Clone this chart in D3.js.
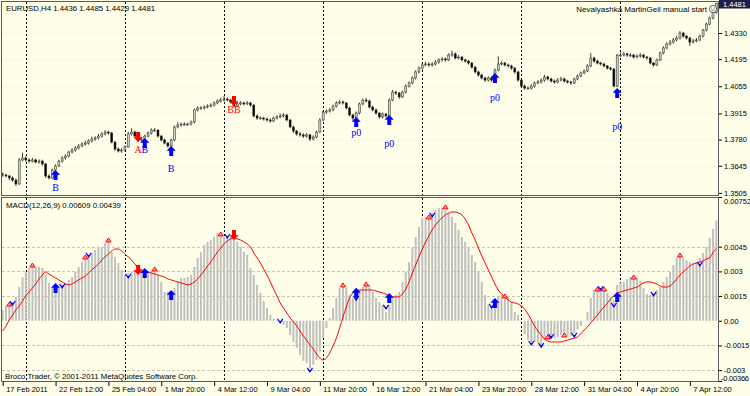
<!DOCTYPE html>
<html>
<head>
<meta charset="utf-8">
<script src="https://cdn.jsdelivr.net/npm/d3@7"></script>
<style>
  html, body { margin: 0; padding: 0; background: #fefee9; }
  svg { display: block; }
  text { font-family: "Liberation Sans", Arial, sans-serif; }
</style>
</head>
<body>
<div class="viz"></div>
<script>
// ---- data: EURUSD H4, 217 bars ----
const opens = [
1.3601,1.3597,1.3592,1.3582,1.3571,1.3551,1.3675,1.3685,1.3675,1.3669,
1.3675,1.3664,1.3669,1.3654,1.3592,1.3582,1.3623,1.3644,1.3669,1.3685,
1.3695,1.3716,1.3726,1.3737,1.3747,1.3757,1.3762,1.3773,1.3783,1.3788,
1.3798,1.3809,1.3819,1.3814,1.3767,1.3731,1.3721,1.3726,1.3742,1.3809,
1.3819,1.3798,1.3778,1.3783,1.3798,1.3814,1.3829,1.3829,1.3798,1.3778,
1.3762,1.3747,1.3778,1.3845,1.3855,1.3860,1.3860,1.3860,1.3871,1.3933,
1.3943,1.3943,1.3948,1.3953,1.3958,1.3969,1.3979,1.3984,1.3989,1.3984,
1.3974,1.3953,1.3964,1.3969,1.3964,1.3969,1.3958,1.3902,1.3891,1.3891,
1.3886,1.3881,1.3876,1.3891,1.3897,1.3902,1.3907,1.3881,1.3845,1.3824,
1.3809,1.3804,1.3798,1.3804,1.3783,1.3793,1.3819,1.3881,1.3922,1.3927,
1.3933,1.3953,1.3969,1.3974,1.3969,1.3943,1.3907,1.3891,1.3917,1.3964,
1.3984,1.3979,1.3948,1.3933,1.3917,1.3897,1.3912,1.3902,1.3984,1.4025,
1.4020,1.4000,1.4025,1.4056,1.4072,1.4098,1.4129,1.4149,1.4165,1.4170,
1.4165,1.4170,1.4180,1.4191,1.4196,1.4191,1.4216,1.4222,1.4201,1.4206,
1.4191,1.4185,1.4175,1.4154,1.4129,1.4113,1.4098,1.4087,1.4098,1.4087,
1.4139,1.4170,1.4175,1.4165,1.4160,1.4149,1.4129,1.4087,1.4056,1.4046,
1.4046,1.4056,1.4072,1.4077,1.4087,1.4103,1.4093,1.4082,1.4077,1.4087,
1.4093,1.4082,1.4077,1.4072,1.4093,1.4108,1.4124,1.4134,1.4160,1.4201,
1.4185,1.4175,1.4170,1.4160,1.4149,1.4144,1.4056,1.4216,1.4216,1.4222,
1.4216,1.4216,1.4206,1.4211,1.4216,1.4206,1.4201,1.4175,1.4165,1.4191,
1.4227,1.4253,1.4273,1.4283,1.4294,1.4304,1.4330,1.4314,1.4304,1.4283,
1.4289,1.4294,1.4314,1.4345,1.4376,1.4407,1.4436];
const highs = [
1.3610,1.3604,1.3598,1.3590,1.3579,1.3684,1.3712,1.3694,1.3683,1.3686,
1.3681,1.3678,1.3676,1.3660,1.3601,1.3630,1.3652,1.3676,1.3694,1.3704,
1.3722,1.3735,1.3746,1.3757,1.3766,1.3775,1.3782,1.3795,1.3797,1.3810,
1.3818,1.3829,1.3826,1.3820,1.3772,1.3740,1.3735,1.3750,1.3820,1.3838,
1.3826,1.3804,1.3792,1.3806,1.3822,1.3838,1.3840,1.3834,1.3804,1.3785,
1.3768,1.3785,1.3852,1.3870,1.3868,1.3869,1.3867,1.3878,1.3940,1.3952,
1.3953,1.3957,1.3962,1.3967,1.3977,1.3988,1.3996,1.4005,1.3998,1.3991,
1.3992,1.3972,1.3978,1.3976,1.3979,1.3975,1.3963,1.3910,1.3900,1.3898,
1.3894,1.3890,1.3899,1.3906,1.3915,1.3916,1.3912,1.3886,1.3852,1.3830,
1.3820,1.3812,1.3814,1.3810,1.3802,1.3826,1.3890,1.3930,1.3936,1.3943,
1.3961,1.3978,1.3984,1.3982,1.3974,1.3950,1.3913,1.3925,1.3971,1.3992,
1.3995,1.3986,1.3955,1.3940,1.3922,1.3920,1.3918,1.3992,1.4036,1.4032,
1.4026,1.4033,1.4064,1.4080,1.4106,1.4137,1.4158,1.4175,1.4182,1.4179,
1.4180,1.4190,1.4200,1.4206,1.4204,1.4226,1.4240,1.4230,1.4216,1.4212,
1.4198,1.4192,1.4180,1.4160,1.4135,1.4120,1.4104,1.4106,1.4103,1.4147,
1.4210,1.4184,1.4181,1.4172,1.4166,1.4155,1.4134,1.4093,1.4064,1.4055,
1.4066,1.4080,1.4087,1.4096,1.4113,1.4110,1.4099,1.4090,1.4098,1.4104,
1.4100,1.4089,1.4084,1.4100,1.4116,1.4131,1.4142,1.4168,1.4227,1.4208,
1.4192,1.4182,1.4176,1.4165,1.4156,1.4150,1.4222,1.4230,1.4232,1.4228,
1.4226,1.4222,1.4220,1.4226,1.4223,1.4212,1.4206,1.4181,1.4198,1.4234,
1.4261,1.4282,1.4294,1.4304,1.4316,1.4340,1.4336,1.4320,1.4310,1.4299,
1.4304,1.4322,1.4352,1.4384,1.4415,1.4444,1.4485];
const lows = [
1.3588,1.3585,1.3570,1.3562,1.3540,1.3546,1.3668,1.3666,1.3660,1.3662,
1.3657,1.3655,1.3646,1.3583,1.3575,1.3577,1.3615,1.3638,1.3661,1.3676,
1.3688,1.3709,1.3718,1.3729,1.3740,1.3749,1.3754,1.3766,1.3774,1.3781,
1.3790,1.3801,1.3805,1.3760,1.3722,1.3713,1.3712,1.3718,1.3738,1.3801,
1.3790,1.3768,1.3770,1.3776,1.3791,1.3806,1.3820,1.3790,1.3770,1.3755,
1.3738,1.3741,1.3772,1.3838,1.3847,1.3852,1.3851,1.3853,1.3864,1.3925,
1.3934,1.3936,1.3941,1.3946,1.3951,1.3962,1.3972,1.3977,1.3976,1.3966,
1.3945,1.3946,1.3957,1.3956,1.3958,1.3950,1.3895,1.3882,1.3883,1.3878,
1.3872,1.3867,1.3870,1.3884,1.3890,1.3895,1.3874,1.3838,1.3815,1.3800,
1.3795,1.3788,1.3790,1.3772,1.3776,1.3787,1.3814,1.3875,1.3914,1.3920,
1.3926,1.3946,1.3962,1.3961,1.3936,1.3900,1.3879,1.3885,1.3910,1.3957,
1.3971,1.3940,1.3925,1.3908,1.3888,1.3889,1.3892,1.3897,1.3978,1.4010,
1.3990,1.3994,1.4018,1.4048,1.4065,1.4090,1.4121,1.4141,1.4158,1.4156,
1.4157,1.4163,1.4172,1.4183,1.4182,1.4185,1.4208,1.4194,1.4194,1.4183,
1.4177,1.4167,1.4146,1.4121,1.4105,1.4090,1.4078,1.4080,1.4077,1.4082,
1.4132,1.4162,1.4157,1.4152,1.4141,1.4120,1.4079,1.4048,1.4036,1.4037,
1.4038,1.4048,1.4066,1.4070,1.4079,1.4085,1.4074,1.4068,1.4070,1.4080,
1.4074,1.4069,1.4062,1.4066,1.4086,1.4101,1.4117,1.4128,1.4154,1.4177,
1.4168,1.4162,1.4152,1.4141,1.4136,1.4050,1.4050,1.4207,1.4210,1.4207,
1.4206,1.4198,1.4199,1.4203,1.4198,1.4192,1.4168,1.4156,1.4160,1.4185,
1.4220,1.4246,1.4266,1.4276,1.4287,1.4297,1.4306,1.4296,1.4262,1.4276,
1.4282,1.4288,1.4308,1.4338,1.4370,1.4400,1.4429];
const closes = [
1.3597,1.3592,1.3582,1.3571,1.3551,1.3675,1.3685,1.3675,1.3669,1.3675,
1.3664,1.3669,1.3654,1.3592,1.3582,1.3623,1.3644,1.3669,1.3685,1.3695,
1.3716,1.3726,1.3737,1.3747,1.3757,1.3762,1.3773,1.3783,1.3788,1.3798,
1.3809,1.3819,1.3814,1.3767,1.3731,1.3721,1.3726,1.3742,1.3809,1.3819,
1.3798,1.3778,1.3783,1.3798,1.3814,1.3829,1.3829,1.3798,1.3778,1.3762,
1.3747,1.3778,1.3845,1.3855,1.3860,1.3860,1.3860,1.3871,1.3933,1.3943,
1.3943,1.3948,1.3953,1.3958,1.3969,1.3979,1.3984,1.3989,1.3984,1.3974,
1.3953,1.3964,1.3969,1.3964,1.3969,1.3958,1.3902,1.3891,1.3891,1.3886,
1.3881,1.3876,1.3891,1.3897,1.3902,1.3907,1.3881,1.3845,1.3824,1.3809,
1.3804,1.3798,1.3804,1.3783,1.3793,1.3819,1.3881,1.3922,1.3927,1.3933,
1.3953,1.3969,1.3974,1.3969,1.3943,1.3907,1.3891,1.3917,1.3964,1.3984,
1.3979,1.3948,1.3933,1.3917,1.3897,1.3912,1.3902,1.3984,1.4025,1.4020,
1.4000,1.4025,1.4056,1.4072,1.4098,1.4129,1.4149,1.4165,1.4170,1.4165,
1.4170,1.4180,1.4191,1.4196,1.4191,1.4216,1.4222,1.4201,1.4206,1.4191,
1.4185,1.4175,1.4154,1.4129,1.4113,1.4098,1.4087,1.4098,1.4087,1.4139,
1.4170,1.4175,1.4165,1.4160,1.4149,1.4129,1.4087,1.4056,1.4046,1.4046,
1.4056,1.4072,1.4077,1.4087,1.4103,1.4093,1.4082,1.4077,1.4087,1.4093,
1.4082,1.4077,1.4072,1.4093,1.4108,1.4124,1.4134,1.4160,1.4201,1.4185,
1.4175,1.4170,1.4160,1.4149,1.4144,1.4056,1.4216,1.4216,1.4222,1.4216,
1.4216,1.4206,1.4211,1.4216,1.4206,1.4201,1.4175,1.4165,1.4191,1.4227,
1.4253,1.4273,1.4283,1.4294,1.4304,1.4330,1.4314,1.4304,1.4283,1.4289,
1.4294,1.4314,1.4345,1.4376,1.4407,1.4436,1.4481];

// MACD(12,26,9): main histogram and signal line
const macd = [
0.00066,0.00090,0.00102,0.00114,0.00145,0.00205,0.00266,0.00297,0.00321,0.00327,
0.00327,0.00327,0.00321,0.00278,0.00230,0.00199,0.00187,0.00199,0.00218,0.00230,
0.00248,0.00266,0.00297,0.00327,0.00357,0.00382,0.00388,0.00412,0.00430,0.00442,
0.00448,0.00473,0.00479,0.00418,0.00388,0.00351,0.00309,0.00278,0.00290,0.00297,
0.00309,0.00309,0.00297,0.00290,0.00297,0.00309,0.00297,0.00278,0.00236,0.00175,
0.00175,0.00175,0.00199,0.00236,0.00260,0.00260,0.00266,0.00278,0.00327,0.00382,
0.00418,0.00461,0.00479,0.00491,0.00509,0.00533,0.00521,0.00509,0.00503,0.00509,
0.00503,0.00479,0.00448,0.00418,0.00400,0.00321,0.00278,0.00218,0.00169,0.00120,
0.00078,0.00035,0.00011,0.00005,-0.00013,-0.00026,-0.00044,-0.00086,-0.00129,-0.00165,
-0.00208,-0.00244,-0.00256,-0.00287,-0.00269,-0.00238,-0.00190,-0.00105,-0.00044,0.00017,
0.00078,0.00139,0.00199,0.00211,0.00199,0.00157,0.00139,0.00157,0.00187,0.00205,
0.00224,0.00218,0.00175,0.00139,0.00114,0.00096,0.00053,0.00096,0.00139,0.00157,
0.00175,0.00236,0.00297,0.00357,0.00442,0.00509,0.00570,0.00625,0.00631,0.00631,
0.00655,0.00673,0.00685,0.00685,0.00673,0.00655,0.00631,0.00594,0.00552,0.00509,
0.00479,0.00442,0.00400,0.00357,0.00297,0.00236,0.00157,0.00096,0.00084,0.00108,
0.00151,0.00157,0.00157,0.00145,0.00114,0.00053,0.00035,-0.00007,-0.00080,-0.00117,
-0.00135,-0.00129,-0.00135,-0.00147,-0.00117,-0.00092,-0.00105,-0.00105,-0.00098,-0.00086,
-0.00080,-0.00092,-0.00092,-0.00074,-0.00050,-0.00032,-0.00003,0.00053,0.00139,0.00187,
0.00199,0.00187,0.00187,0.00169,0.00145,0.00126,0.00218,0.00230,0.00236,0.00254,
0.00266,0.00260,0.00260,0.00242,0.00199,0.00163,0.00157,0.00169,0.00187,0.00205,
0.00236,0.00266,0.00297,0.00339,0.00382,0.00394,0.00382,0.00369,0.00357,0.00351,
0.00357,0.00382,0.00412,0.00448,0.00503,0.00558,0.00609];
const signal = [
-0.00062,-0.00032,0.00005,0.00035,0.00066,0.00090,0.00120,0.00151,0.00175,0.00199,
0.00224,0.00254,0.00278,0.00297,0.00284,0.00272,0.00260,0.00248,0.00236,0.00224,
0.00218,0.00224,0.00236,0.00248,0.00260,0.00272,0.00290,0.00309,0.00327,0.00345,
0.00369,0.00388,0.00406,0.00424,0.00436,0.00436,0.00424,0.00406,0.00388,0.00369,
0.00345,0.00321,0.00309,0.00303,0.00297,0.00290,0.00284,0.00278,0.00272,0.00266,
0.00254,0.00248,0.00242,0.00236,0.00230,0.00224,0.00218,0.00224,0.00236,0.00254,
0.00278,0.00303,0.00333,0.00357,0.00388,0.00418,0.00442,0.00467,0.00485,0.00497,
0.00503,0.00497,0.00491,0.00479,0.00467,0.00448,0.00412,0.00382,0.00351,0.00315,
0.00278,0.00236,0.00193,0.00151,0.00108,0.00078,0.00047,0.00017,-0.00007,-0.00032,
-0.00062,-0.00092,-0.00117,-0.00147,-0.00171,-0.00202,-0.00226,-0.00238,-0.00226,-0.00195,
-0.00153,-0.00105,-0.00044,0.00023,0.00084,0.00139,0.00169,0.00181,0.00187,0.00187,
0.00187,0.00187,0.00187,0.00181,0.00175,0.00169,0.00163,0.00151,0.00145,0.00145,
0.00145,0.00163,0.00193,0.00236,0.00290,0.00339,0.00388,0.00436,0.00479,0.00515,
0.00552,0.00582,0.00606,0.00625,0.00643,0.00655,0.00661,0.00661,0.00655,0.00643,
0.00618,0.00582,0.00533,0.00491,0.00442,0.00394,0.00351,0.00309,0.00266,0.00224,
0.00187,0.00163,0.00145,0.00126,0.00114,0.00108,0.00102,0.00090,0.00071,0.00041,
0.00005,-0.00032,-0.00062,-0.00086,-0.00111,-0.00123,-0.00129,-0.00129,-0.00129,-0.00129,
-0.00123,-0.00117,-0.00111,-0.00105,-0.00098,-0.00080,-0.00056,-0.00038,-0.00013,0.00011,
0.00035,0.00060,0.00084,0.00108,0.00132,0.00151,0.00169,0.00175,0.00181,0.00187,
0.00193,0.00199,0.00205,0.00218,0.00230,0.00236,0.00236,0.00230,0.00224,0.00211,
0.00205,0.00205,0.00211,0.00230,0.00254,0.00278,0.00297,0.00315,0.00333,0.00345,
0.00351,0.00357,0.00363,0.00376,0.00382,0.00415,0.00439];

// axis ticks
const priceTicks = [1.4330, 1.4195, 1.4055, 1.3915, 1.3780, 1.3645, 1.3505];
const macdTicks = [0.00752, 0.0045, 0.003, 0.0015, 0, -0.0015, -0.003, -0.00366];
const macdTickLabels = ["0.00752", "0.0045", "0.003", "0.0015", "0.00", "-0.0015", "-0.003", "-0.00366"];
const macdGridLevels = [0.0045, 0.003, 0.0015, -0.0015, -0.003];
const timeLabels = ["17 Feb 2011", "22 Feb 12:00", "25 Feb 04:00", "1 Mar 20:00", "4 Mar 12:00",
  "9 Mar 04:00", "11 Mar 20:00", "16 Mar 12:00", "21 Mar 04:00", "23 Mar 20:00",
  "28 Mar 12:00", "31 Mar 04:00", "4 Apr 20:00", "7 Apr 12:00"];
const timeLabelBars = [0, 16, 32, 48, 64, 80, 96, 112, 128, 144, 160, 176, 192, 208];
const weekStartBars = [7, 37, 67, 97, 127, 157, 187];

// EA signals on the price chart
const buyBars = [16, 43, 51, 107, 117, 149, 186];
const buyArrowPrices = [1.3623, 1.3788, 1.3747, 1.3897, 1.3907, 1.4124, 1.4046];
const sellBars = [41, 70];
const sellArrowPrices = [1.3767, 1.3953];
const buyTagTexts = ["B", "B", "B", "p0", "p0", "p0", "p0"];
const buyTagPrices = [1.3535, 1.3731, 1.3633, 1.3814, 1.3762, 1.3999, 1.3850];
const sellTagTexts = ["A", "BB"];
const sellTagPrices = [1.3731, 1.3933];

// same signals in the MACD window
const buyArrowMacd = [0.0023, 0.0032, 0.00187, 0.0020, 0.00169, 0.00139, 0.00175];
const sellArrowMacd = [0.00278, 0.00491];

// MACD peaks / troughs markers
const peakBars = [2, 9, 25, 32, 46, 66, 103, 110, 129, 134, 152, 165, 170, 180, 182, 191, 205];
const peakValues = [0.00114, 0.00351, 0.0040, 0.00503, 0.00327, 0.0054, 0.0023, 0.00236, 0.00643, 0.00704,
  0.00163, -0.00086, -0.00074, 0.00205, 0.00205, 0.00278, 0.00412];
const troughBars = [3, 18, 26, 38, 68, 84, 93, 107, 116, 130, 148, 160, 163, 166, 173, 181, 185, 197, 211];
const troughValues = [0.00096, 0.0020, 0.00388, 0.0026, 0.00503, -0.00013, -0.00311, 0.00126, 0.00072, 0.00631,
  0.00078, -0.00147, -0.0016, -0.00105, -0.00098, 0.00187, 0.00084, 0.00151, 0.00333];

// ---- layout ----
const dimensions = {
  width: 750,
  height: 396,
  left: 2,
  right: 718,
  priceTop: 2,
  priceBottom: 195,
  macdTop: 197,
  macdBottom: 381,
};

const bg = "#fefee9";
const blue = "#0000ff";
const red = "#ff0000";

const svg = d3.select(".viz")
  .append("svg")
  .attr("width", dimensions.width)
  .attr("height", dimensions.height);

svg.append("rect").attr("width", dimensions.width).attr("height", dimensions.height).attr("fill", bg);

const defs = svg.append("defs");
defs.append("clipPath").attr("id", "clipPrice").append("rect")
  .attr("x", dimensions.left).attr("y", dimensions.priceTop)
  .attr("width", dimensions.right - dimensions.left).attr("height", dimensions.priceBottom - dimensions.priceTop);
defs.append("clipPath").attr("id", "clipMacd").append("rect")
  .attr("x", dimensions.left).attr("y", dimensions.macdTop)
  .attr("width", dimensions.right - dimensions.left).attr("height", dimensions.macdBottom - dimensions.macdTop);

// scales
const xScale = d3.scaleLinear().domain([0, closes.length - 1]).range([2.7, 716.3]);
const yPrice = d3.scaleLinear().domain([1.3494, 1.4490]).range([dimensions.priceBottom, dimensions.priceTop]);
const yMacd = d3.scaleLinear().domain([-0.00366, 0.00752]).range([dimensions.macdBottom, dimensions.macdTop]);

// grids
const gridG = svg.append("g");
gridG.selectAll(".pgrid").data(priceTicks).join("line")
  .attr("x1", dimensions.left).attr("x2", dimensions.right)
  .attr("y1", d => Math.round(yPrice(d)) + 0.5).attr("y2", d => Math.round(yPrice(d)) + 0.5)
  .attr("stroke", "#deded0").attr("stroke-dasharray", "1,3");
gridG.selectAll(".mgrid").data(macdGridLevels).join("line")
  .attr("x1", dimensions.left).attr("x2", dimensions.right)
  .attr("y1", d => Math.round(yMacd(d)) + 0.5).attr("y2", d => Math.round(yMacd(d)) + 0.5)
  .attr("stroke", "#c6c6b4").attr("stroke-dasharray", "3,2");

// week separators (both windows)
svg.append("g").selectAll("line").data(weekStartBars).join("line")
  .attr("x1", d => Math.round(xScale(d)) + 0.5).attr("x2", d => Math.round(xScale(d)) + 0.5)
  .attr("y1", dimensions.priceTop).attr("y2", dimensions.macdBottom)
  .attr("stroke", "#000").attr("stroke-dasharray", "2,2");

// ---- candles ----
const priceG = svg.append("g").attr("clip-path", "url(#clipPrice)");
const idx = d3.range(closes.length);
priceG.selectAll(".wick").data(idx).join("line")
  .attr("x1", i => xScale(i)).attr("x2", i => xScale(i))
  .attr("y1", i => yPrice(highs[i])).attr("y2", i => yPrice(lows[i]))
  .attr("stroke", "#2c2c2c").attr("stroke-width", 0.9);
priceG.selectAll(".body").data(idx).join("rect")
  .attr("x", i => xScale(i) - 1)
  .attr("width", 2)
  .attr("y", i => yPrice(Math.max(opens[i], closes[i])))
  .attr("height", i => Math.max(0.8, Math.abs(yPrice(opens[i]) - yPrice(closes[i]))))
  .attr("fill", i => closes[i] >= opens[i] ? "#c8d2be" : "#000")
  .attr("stroke", "#2c2c2c").attr("stroke-width", 0.5);

// arrow glyphs
const upArrow = "M0,0 L4.6,4.8 L2,4.8 L2,10 L-2,10 L-2,4.8 L-4.6,4.8 Z";
const downArrow = "M0,0 L4.6,-4.8 L2,-4.8 L2,-10 L-2,-10 L-2,-4.8 L-4.6,-4.8 Z";

priceG.selectAll(".buy").data(buyBars).join("path")
  .attr("d", upArrow)
  .attr("transform", (d, k) => `translate(${xScale(d)},${yPrice(buyArrowPrices[k])})`)
  .attr("fill", blue);
priceG.selectAll(".sell").data(sellBars).join("path")
  .attr("d", downArrow)
  .attr("transform", (d, k) => `translate(${xScale(d)},${yPrice(sellArrowPrices[k])})`)
  .attr("fill", red);
priceG.selectAll(".buytag").data(buyBars).join("text")
  .attr("x", d => xScale(d)).attr("y", (d, k) => yPrice(buyTagPrices[k]) + 3.5)
  .attr("text-anchor", "middle")
  .style("font-family", "'Liberation Serif', serif").style("font-size", "10px")
  .attr("fill", blue).text((d, k) => buyTagTexts[k]);
priceG.selectAll(".selltag").data(sellBars).join("text")
  .attr("x", d => xScale(d)).attr("y", (d, k) => yPrice(sellTagPrices[k]) + 3.5)
  .attr("text-anchor", "middle")
  .style("font-family", "'Liberation Serif', serif").style("font-size", "10px")
  .attr("fill", red).text((d, k) => sellTagTexts[k]);

// ---- MACD window ----
const macdG = svg.append("g").attr("clip-path", "url(#clipMacd)");
macdG.selectAll(".hist").data(idx).join("rect")
  .attr("x", i => xScale(i) - 1)
  .attr("width", 2)
  .attr("y", i => Math.min(yMacd(macd[i]), yMacd(0)))
  .attr("height", i => Math.abs(yMacd(macd[i]) - yMacd(0)))
  .attr("fill", "#c0c0c0");

const signalLine = d3.line()
  .x((d, i) => xScale(i))
  .y(d => yMacd(d))
  .curve(d3.curveMonotoneX);
macdG.append("path").attr("d", signalLine(signal))
  .attr("fill", "none").attr("stroke", red).attr("stroke-width", 1);

macdG.selectAll(".peak").data(peakBars).join("path")
  .attr("d", "M-2.6,4 L0,0 L2.6,4 Z")
  .attr("transform", (d, k) => `translate(${xScale(d)},${yMacd(peakValues[k])})`)
  .attr("fill", "#ffa0a0").attr("stroke", red).attr("stroke-width", 1);
macdG.selectAll(".trough").data(troughBars).join("path")
  .attr("d", "M-2.6,-4 L0,0 L2.6,-4 M0,0 L0,-2")
  .attr("transform", (d, k) => `translate(${xScale(d)},${yMacd(troughValues[k])})`)
  .attr("fill", "none").attr("stroke", blue).attr("stroke-width", 1.2);

macdG.selectAll(".mbuy").data(buyBars).join("path")
  .attr("d", upArrow)
  .attr("transform", (d, k) => `translate(${xScale(d)},${yMacd(buyArrowMacd[k])})`)
  .attr("fill", blue);
macdG.selectAll(".msell").data(sellBars).join("path")
  .attr("d", downArrow)
  .attr("transform", (d, k) => `translate(${xScale(d)},${yMacd(sellArrowMacd[k])})`)
  .attr("fill", red);

// ---- frames ----
svg.append("rect").attr("x", 1.5).attr("y", 1.5).attr("width", 717).attr("height", 194)
  .attr("fill", "none").attr("stroke", "#5a5a5a");
svg.append("rect").attr("x", 1.5).attr("y", 197.5).attr("width", 717).attr("height", 184)
  .attr("fill", "none").attr("stroke", "#5a5a5a");

// ---- axes ----
const priceAxis = svg.append("g")
  .attr("transform", `translate(${dimensions.right + 1},0)`)
  .call(d3.axisRight(yPrice).tickValues(priceTicks).tickFormat(d3.format(".4f")).tickSize(3).tickPadding(2));
priceAxis.select(".domain").remove();
priceAxis.selectAll("text").style("font-size", "7.5px").attr("fill", "#000");
priceAxis.selectAll("line").attr("stroke", "#000");

// current price marker
svg.append("rect").attr("x", 719).attr("y", 0).attr("width", 31).attr("height", 8.5).attr("fill", "#1e1e4a");
svg.append("text").attr("x", 723).attr("y", 6.8).text(closes[closes.length - 1].toFixed(4))
  .style("font-size", "7.5px").attr("fill", "#fff");

const macdAxis = svg.append("g")
  .attr("transform", `translate(${dimensions.right + 1},0)`)
  .call(d3.axisRight(yMacd).tickValues(macdTicks).tickFormat((d, i) => macdTickLabels[i]).tickSize(3).tickPadding(2));
macdAxis.select(".domain").remove();
macdAxis.selectAll("text").style("font-size", "7.5px").attr("fill", "#000")
  .attr("dy", (d, i) => i === 0 ? "0.9em" : (i === macdTicks.length - 1 ? "-0.05em" : "0.32em"))
  .attr("x", (d, i) => i === macdTicks.length - 1 ? 2 : 5)
  .attr("textLength", (d, i) => i === macdTicks.length - 1 ? 28 : null);
macdAxis.selectAll("line").attr("stroke", "#000");

const timeAxis = svg.append("g")
  .attr("transform", `translate(0,${dimensions.macdBottom + 1})`)
  .call(d3.axisBottom(xScale).tickValues(timeLabelBars).tickFormat((d, i) => timeLabels[i]).tickSize(4).tickPadding(2));
timeAxis.select(".domain").remove();
timeAxis.selectAll("text").style("font-size", "7.5px").attr("fill", "#000")
  .attr("text-anchor", "start").attr("x", 3).attr("dy", "0.55em");
timeAxis.selectAll("line").attr("stroke", "#000");

// ---- captions ----
svg.append("text").attr("x", 6).attr("y", 10.5)
  .text("EURUSD,H4  1.4436 1.4485 1.4429 1.4481").style("font-size", "7.8px").attr("fill", "#000");
svg.append("text").attr("x", 6).attr("y", 208)
  .text("MACD(12,26,9) 0.00609 0.00439").style("font-size", "7.8px").attr("fill", "#000");
svg.append("text").attr("x", 5).attr("y", 379)
  .text("Broco Trader, \u00a9 2001-2011 MetaQuotes Software Corp.").style("font-size", "7.8px").attr("fill", "#000");
svg.append("text").attr("x", 707).attr("y", 11.5).attr("text-anchor", "end")
  .text("Nevalyashka MartinGeil manual start").style("font-size", "8px").attr("fill", "#000");
const smile = svg.append("g").attr("transform", "translate(713,9)");
smile.append("circle").attr("r", 3.6).attr("fill", bg).attr("stroke", "#444").attr("stroke-width", 0.8);
smile.append("path").attr("d", "M-1.8,0.6 Q0,2.6 1.8,0.6").attr("fill", "none").attr("stroke", "#444").attr("stroke-width", 0.6);
smile.selectAll("circle.eye").data([-1.2, 1.2]).join("circle").attr("class", "eye")
  .attr("cx", d => d).attr("cy", -1).attr("r", 0.5).attr("fill", "#444");
</script>
</body>
</html>
